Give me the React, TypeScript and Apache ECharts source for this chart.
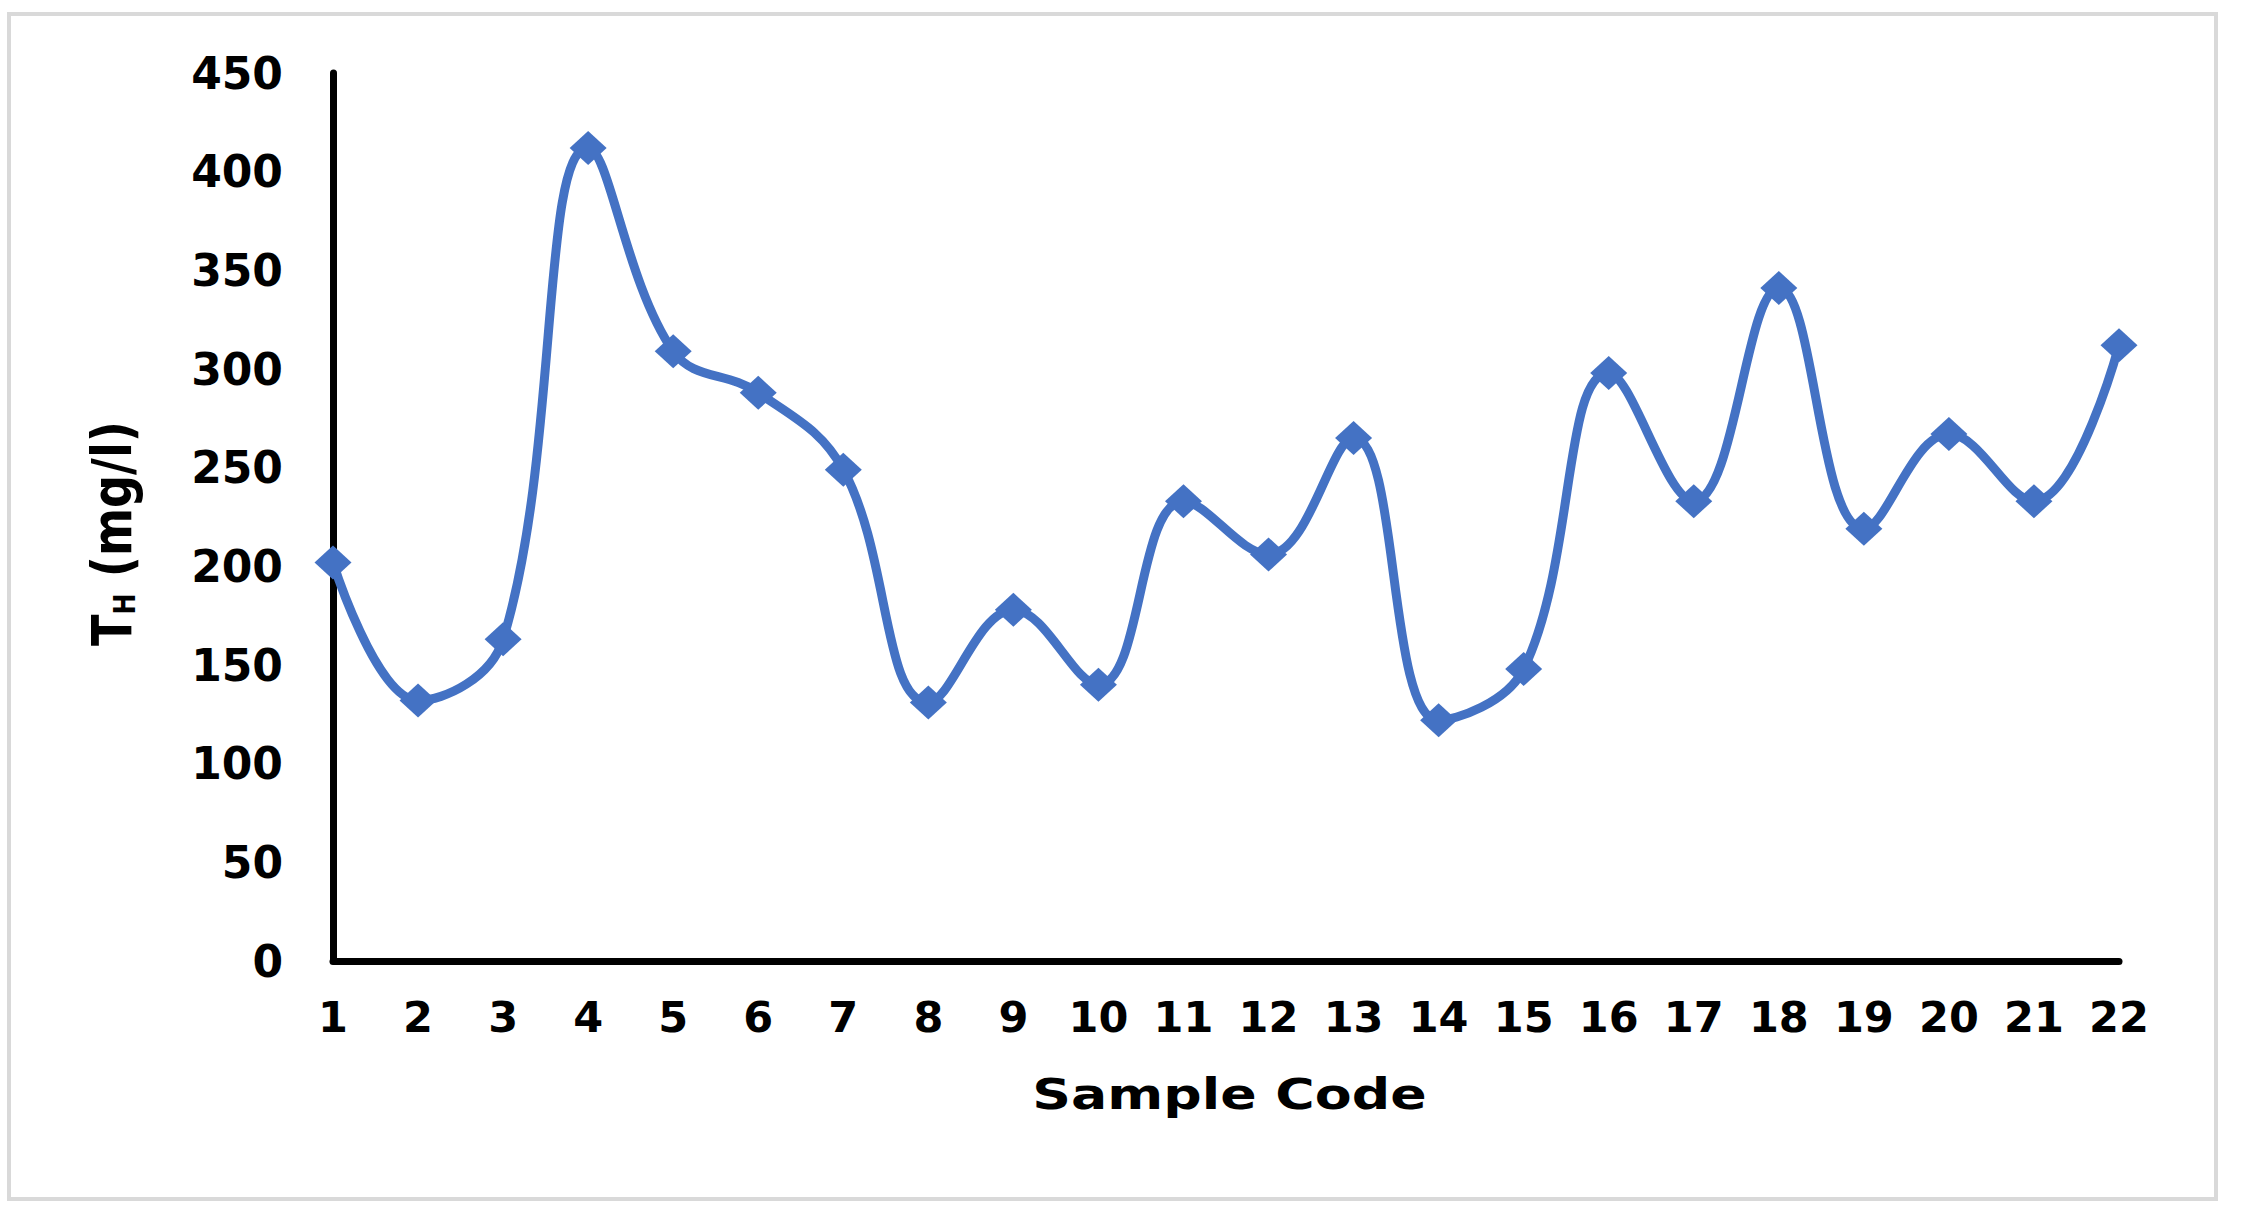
import React, { useEffect, useRef } from "react";
import * as echarts from "echarts";

const sampleCodes = ["1","2","3","4","5","6","7","8","9","10","11","12","13","14","15","16","17","18","19","20","21","22"];
const hardnessValues = [202, 132, 163, 412, 309, 288, 249, 131, 178, 140, 233, 206, 265, 122, 148, 298, 233, 341, 219, 267, 233, 312];
const yMin = 0;
const yMax = 450;
const yInterval = 50;
const xTitle = "Sample Code";

const FONT = "DejaVu Sans";

export default function App() {
  const ref = useRef<HTMLDivElement>(null);
  useEffect(() => {
    if (!ref.current) return;
    const chart = echarts.init(ref.current, undefined, { renderer: "svg" });
    chart.setOption({
      animation: false,
      backgroundColor: "#ffffff",
      grid: { left: 333, right: 123, top: 73, bottom: 255, containLabel: false },
      xAxis: {
        type: "category",
        data: sampleCodes,
        boundaryGap: false,
        axisLine: { show: true, lineStyle: { color: "#000", width: 7 } },
        axisTick: { show: false },
        splitLine: { show: false },
        axisLabel: {
          color: "#000",
          fontFamily: FONT,
          fontWeight: "bold",
          fontSize: 43,
          margin: 34,
          interval: 0,
        },
      },
      yAxis: {
        type: "value",
        min: yMin,
        max: yMax,
        interval: yInterval,
        axisLine: { show: true, lineStyle: { color: "#000", width: 7 } },
        axisTick: { show: false },
        splitLine: { show: false },
        axisLabel: {
          color: "#000",
          fontFamily: FONT,
          fontWeight: "bold",
          fontSize: 44,
          margin: 50,
        },
      },
      series: [
        {
          type: "line",
          data: hardnessValues,
          smooth: 0.4,
          symbol: "diamond",
          symbolSize: [37, 34],
          itemStyle: { color: "#4472C4" },
          lineStyle: { color: "#4472C4", width: 9 },
          z: 5,
        },
      ],
      graphic: [
        {
          type: "rect",
          shape: { x: 9, y: 14, width: 2207, height: 1185 },
          style: { fill: "none", stroke: "#d9d9d9", lineWidth: 4 },
          z: -10,
        },
        {
          type: "text",
          x: 1229.5,
          y: 1094.5,
          scaleX: 1.28,
          style: {
            text: xTitle,
            fill: "#000",
            font: `bold 42px "${FONT}"`,
            align: "center",
            verticalAlign: "middle",
            textAlign: "center",
            textVerticalAlign: "middle",
          },
        },
        {
          type: "text",
          x: 112,
          y: 533.5,
          rotation: Math.PI / 2,
          scaleX: 1.05,
          scaleY: 1.25,
          style: {
            text: "{t|T}{h|H}{t| (mg/l)}",
            fill: "#000",
            align: "center",
            verticalAlign: "middle",
            textAlign: "center",
            textVerticalAlign: "middle",
            rich: {
              t: {
                fontFamily: FONT,
                fontWeight: "bold",
                fontSize: 44,
                lineHeight: 44,
                verticalAlign: "bottom",
                fill: "#000",
              },
              h: {
                fontFamily: FONT,
                fontWeight: "bold",
                fontSize: 24,
                lineHeight: 32,
                verticalAlign: "bottom",
                fill: "#000",
              },
            },
          },
        },
      ],
    });
    return () => chart.dispose();
  }, []);
  return (
    <div
      ref={ref}
      style={{ position: "absolute", left: 0, top: 0, width: 2242, height: 1216, background: "#fff" }}
    />
  );
}
